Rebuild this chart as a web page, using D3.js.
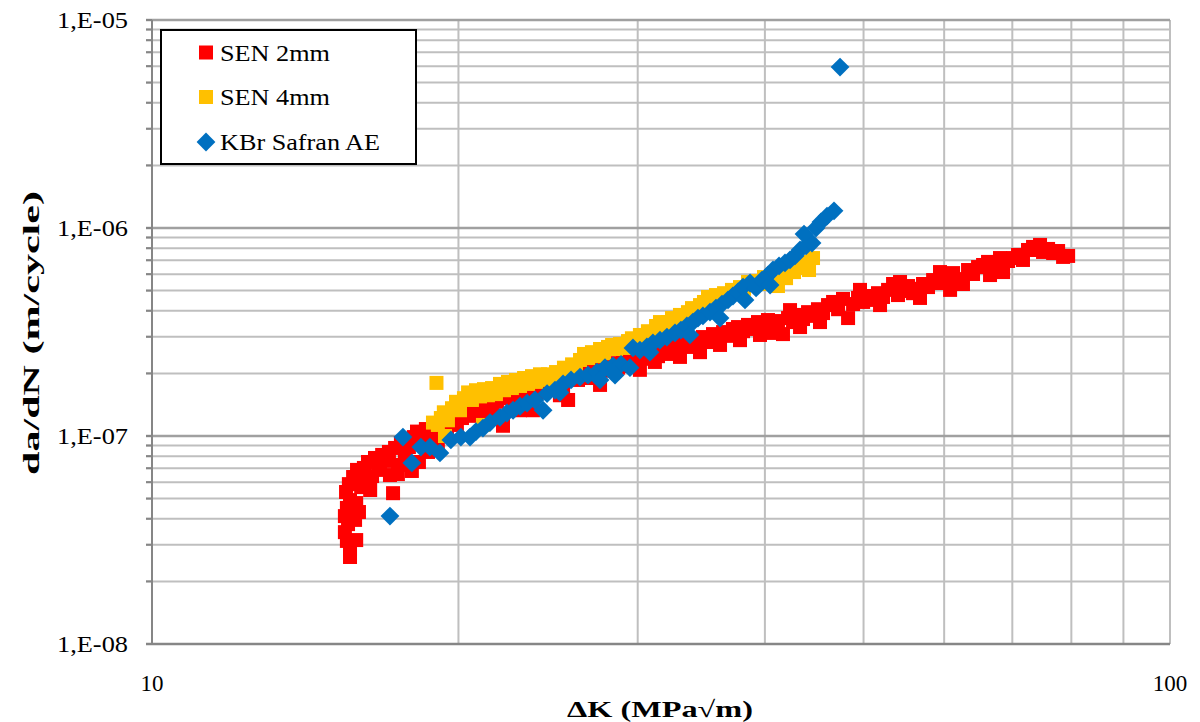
<!DOCTYPE html>
<html><head><meta charset="utf-8">
<script src="https://cdn.jsdelivr.net/npm/d3@7"></script>
<style>html,body{margin:0;padding:0;background:#fff;} svg{display:block;}</style>
</head><body><svg id="c" width="1200" height="722"></svg>
<script>
// ---- data ----
const seriesNames = ["SEN 2mm", "SEN 4mm", "KBr Safran AE"];
const seriesColors = ["#FF0000", "#FFC000", "#0070C0"];

const sen2K = [15.65,15.65,15.54,15.47,15.58,15.47,15.54,15.65,15.51,15.61,
15.76,15.90,16.05,15.87,15.97,16.15,16.30,16.45,16.56,16.71,
16.83,16.98,17.09,17.25,17.33,17.44,17.56,17.72,17.88,18.00,
18.08,18.21,18.29,18.41,18.58,18.75,18.92,19.09,19.27,19.49,
19.71,19.93,20.16,20.39,20.62,20.85,21.10,21.34,21.58,21.82,
22.12,22.37,22.63,22.88,23.15,23.41,23.67,23.94,24.22,24.49,
24.77,25.05,25.34,25.63,25.92,26.21,26.51,26.81,27.12,27.42,
27.74,28.05,28.37,28.69,29.02,29.35,29.68,30.01,30.36,30.70,
31.05,31.41,31.77,32.12,32.49,32.86,33.23,33.61,33.99,34.38,
34.77,35.17,35.57,35.98,36.39,36.80,37.21,37.64,38.07,38.50,
38.94,39.38,39.83,40.28,40.65,41.20,41.67,42.15,42.63,43.11,
43.60,44.10,44.60,45.10,45.62,46.14,46.67,47.20,47.73,48.28,
48.83,49.38,49.95,50.51,51.08,51.66,52.25,52.85,53.45,54.05,
54.67,55.29,55.92,56.56,57.20,57.85,58.52,59.17,59.85,60.53,
61.22,61.91,62.61,63.33,64.05,64.78,65.52,66.26,67.01,67.78,
68.55,69.33,70.12,70.91,71.71,72.53,73.36,74.19,75.04,75.90,
76.77,77.64,78.52,79.42,
18.67,19.01,16.75,16.38,16.19,15.83,15.87,17.13,17.52,
22.99,25.16,27.55,30.15,31.19,33.01,34.54,36.14,37.81,39.56,43.31,45.31,51.90,56.81,60.81,66.56,
42.34,49.60,54.30,59.44,68.08,74.53];
const sen2Rate = [2.62e-8,2.86e-8,3.13e-8,3.45e-8,3.77e-8,4.12e-8,4.51e-8,4.92e-8,5.38e-8,5.87e-8,
6.35e-8,6.87e-8,5.68e-8,4.76e-8,4.31e-8,7.02e-8,7.50e-8,6.42e-8,7.84e-8,7.18e-8,
8.11e-8,7.59e-8,8.38e-8,5.31e-8,8.76e-8,6.56e-8,9.25e-8,7.84e-8,8.85e-8,6.79e-8,
9.88e-8,1.05e-7,7.50e-8,9.25e-8,1.08e-7,9.78e-8,1.03e-7,9.36e-8,1.12e-7,1.07e-7,
1.18e-7,1.13e-7,1.22e-7,1.30e-7,1.25e-7,1.34e-7,1.27e-7,1.41e-7,1.33e-7,1.46e-7,
1.12e-7,1.52e-7,1.43e-7,1.57e-7,1.51e-7,1.64e-7,1.33e-7,1.70e-7,1.62e-7,1.78e-7,
1.68e-7,1.84e-7,1.74e-7,1.49e-7,1.92e-7,1.86e-7,2.00e-7,1.90e-7,2.08e-7,1.98e-7,
2.17e-7,2.06e-7,2.24e-7,2.13e-7,2.32e-7,2.17e-7,2.40e-7,2.24e-7,2.48e-7,2.35e-7,
2.56e-7,2.42e-7,2.65e-7,2.48e-7,2.74e-7,2.59e-7,2.83e-7,2.68e-7,2.92e-7,2.77e-7,
2.99e-7,2.83e-7,3.09e-7,2.95e-7,3.16e-7,3.03e-7,3.27e-7,3.34e-7,3.19e-7,3.42e-7,
3.27e-7,3.53e-7,3.38e-7,3.61e-7,3.13e-7,3.57e-7,3.09e-7,3.69e-7,3.53e-7,3.82e-7,
3.65e-7,3.94e-7,3.78e-7,4.07e-7,3.90e-7,4.26e-7,4.41e-7,4.07e-7,4.56e-7,3.69e-7,
4.31e-7,4.61e-7,4.41e-7,4.71e-7,4.51e-7,4.86e-7,4.66e-7,5.04e-7,5.38e-7,4.76e-7,
4.98e-7,5.26e-7,4.86e-7,5.10e-7,5.38e-7,5.20e-7,5.62e-7,5.44e-7,5.81e-7,5.56e-7,
6.07e-7,5.68e-7,5.38e-7,6.28e-7,6.01e-7,6.49e-7,6.64e-7,6.87e-7,6.42e-7,6.64e-7,
6.14e-7,6.94e-7,7.17e-7,7.42e-7,7.02e-7,7.84e-7,8.11e-7,7.84e-7,7.67e-7,7.93e-7,
7.58e-7,7.75e-7,7.26e-7,7.34e-7,
8.38e-8,8.85e-8,6.87e-8,5.50e-8,6.14e-8,3.95e-8,3.16e-8,6.49e-8,7.26e-8,
1.33e-7,1.57e-7,1.76e-7,2.08e-7,2.27e-7,2.40e-7,2.53e-7,2.74e-7,2.89e-7,3.06e-7,3.34e-7,3.53e-7,4.26e-7,4.61e-7,5.04e-7,5.94e-7,
4.03e-7,5.04e-7,5.50e-7,6.14e-7,7.17e-7,8.29e-7];

const sen4K = [19.03,18.88,19.09,19.22,19.35,19.53,19.71,19.89,20.07,20.25,
20.44,20.62,20.81,21.00,21.19,21.38,21.58,21.77,21.97,22.17,
22.37,22.57,22.78,22.99,23.20,23.41,23.62,23.84,24.05,24.27,
24.49,24.71,24.94,25.16,25.39,25.63,25.86,26.09,26.33,26.57,
26.81,27.05,27.30,27.55,27.80,28.05,28.31,28.56,28.82,29.09,
29.35,29.61,29.88,30.15,30.43,30.70,30.98,31.27,31.55,31.84,
32.12,32.42,32.71,33.01,33.31,33.61,33.92,34.23,34.54,34.85,
35.17,35.49,35.81,36.14,36.47,36.80,37.13,37.47,37.81,38.16,
38.50,38.85,39.21,39.56,39.92,40.28,40.65,41.20,41.58,41.96,
42.34,42.72,43.11,43.50,43.90,44.20,44.60,19.40,21.14];
const sen4Rate = [1.80e-7,1.16e-7,1.13e-7,1.22e-7,1.30e-7,1.19e-7,1.36e-7,1.46e-7,1.33e-7,1.52e-7,
1.62e-7,1.49e-7,1.66e-7,1.55e-7,1.68e-7,1.57e-7,1.70e-7,1.59e-7,1.78e-7,1.66e-7,
1.82e-7,1.70e-7,1.86e-7,1.74e-7,1.90e-7,1.78e-7,1.94e-7,1.82e-7,1.98e-7,1.86e-7,
1.98e-7,1.90e-7,2.03e-7,1.94e-7,2.13e-7,1.98e-7,2.21e-7,2.08e-7,2.32e-7,2.48e-7,
2.37e-7,2.53e-7,2.42e-7,2.62e-7,2.50e-7,2.68e-7,2.74e-7,2.62e-7,2.77e-7,2.65e-7,
2.86e-7,2.95e-7,2.77e-7,3.06e-7,2.89e-7,3.19e-7,3.03e-7,3.38e-7,3.53e-7,3.30e-7,
3.53e-7,3.69e-7,3.53e-7,3.82e-7,3.69e-7,3.94e-7,4.12e-7,3.90e-7,4.26e-7,4.41e-7,
4.66e-7,4.51e-7,4.76e-7,4.61e-7,4.86e-7,4.81e-7,5.04e-7,4.93e-7,5.20e-7,5.10e-7,
5.50e-7,5.32e-7,5.56e-7,5.38e-7,5.81e-7,5.68e-7,5.94e-7,5.26e-7,6.14e-7,5.74e-7,
6.42e-7,6.14e-7,6.71e-7,6.42e-7,6.87e-7,6.28e-7,7.17e-7,1.00e-7,1.13e-7];

const kbrK = [17.13,17.64,18.00,18.37,18.75,19.18,19.66,20.11,20.53,20.81,
21.14,21.48,21.97,22.32,22.63,22.99,23.36,23.78,24.22,24.44,
24.88,25.34,25.80,26.33,26.81,27.36,27.86,28.37,28.89,29.48,
29.68,30.15,30.63,31.05,31.55,32.05,32.64,33.08,33.53,33.99,
34.38,34.77,35.33,35.81,36.30,36.80,37.21,37.64,38.07,38.68,
39.21,39.74,40.28,40.74,41.30,41.86,42.34,42.82,43.31,43.90,
44.50,43.70,44.90,45.41,46.03,46.77,47.41,
25.16,27.55,28.50,30.84,33.76,36.14,38.24,40.47];
const kbrRate = [4.12e-8,9.88e-8,7.42e-8,8.85e-8,8.85e-8,8.29e-8,9.57e-8,9.88e-8,9.88e-8,1.05e-7,
1.09e-7,1.16e-7,1.23e-7,1.29e-7,1.33e-7,1.39e-7,1.44e-7,1.49e-7,1.33e-7,1.60e-7,
1.66e-7,1.78e-7,1.86e-7,1.92e-7,1.96e-7,2.03e-7,2.13e-7,2.17e-7,2.21e-7,2.13e-7,
2.65e-7,2.59e-7,2.68e-7,2.80e-7,2.89e-7,2.99e-7,3.13e-7,3.23e-7,3.38e-7,3.53e-7,
3.69e-7,3.78e-7,3.94e-7,4.12e-7,4.31e-7,4.51e-7,4.71e-7,4.93e-7,5.20e-7,5.44e-7,
5.15e-7,5.62e-7,5.94e-7,6.28e-7,6.57e-7,6.79e-7,7.02e-7,7.34e-7,7.84e-7,8.20e-7,
8.47e-7,9.35e-7,1.00e-6,1.07e-6,1.14e-6,1.21e-6,5.94e-6,
1.62e-7,1.86e-7,1.96e-7,2.53e-7,3.06e-7,3.69e-7,4.51e-7,5.32e-7];

const xTickValues = [10, 100];
const xTickLabels = ["10", "100"];
const yTickValues = [1e-8, 1e-7, 1e-6, 1e-5];
const yTickLabels = ["1,E-08", "1,E-07", "1,E-06", "1,E-05"];
const xGridValues = [20, 30, 40, 50, 60, 70, 80, 90, 100];
const yMinorMantissas = [2, 3, 4, 5, 6, 7, 8, 9];
const xTitle = "ΔK (MPa√m)";
const yTitle = "da/dN (m/cycle)";

// ---- drawing ----
const W = 1200, H = 722;
const P = {l: 152, r: 1170, t: 20, b: 644};
const x = d3.scaleLog().domain([10, 100]).range([P.l, P.r]);
const y = d3.scaleLog().domain([1e-8, 1e-5]).range([P.b, P.t]);
const FONT = "'Liberation Serif', 'DejaVu Serif', serif";

const svg = d3.select("#c");
svg.append("rect").attr("width", W).attr("height", H).attr("fill", "#fff");

const yMajor = yTickValues.slice(1);
const yMinor = [];
yTickValues.slice(0, 3).forEach(dec => yMinorMantissas.forEach(m => yMinor.push(dec * m)));

const grid = svg.append("g");
grid.selectAll(".xg").data(xGridValues).join("line")
  .attr("x1", d => x(d)).attr("x2", d => x(d))
  .attr("y1", P.t).attr("y2", P.b)
  .attr("stroke", "#BFBFBF").attr("stroke-width", 2);
grid.selectAll(".ym").data(yMinor).join("line")
  .attr("x1", P.l - 6).attr("x2", P.r)
  .attr("y1", d => y(d)).attr("y2", d => y(d))
  .attr("stroke", "#BFBFBF").attr("stroke-width", 2);
grid.selectAll(".yM").data(yMajor).join("line")
  .attr("x1", P.l - 6).attr("x2", P.r)
  .attr("y1", d => y(d)).attr("y2", d => y(d))
  .attr("stroke", "#A0A0A0").attr("stroke-width", 2.5);
grid.selectAll(".yt").data(yMinor.concat(yMajor)).join("line")
  .attr("x1", P.l - 6).attr("x2", P.l)
  .attr("y1", d => y(d)).attr("y2", d => y(d))
  .attr("stroke", "#868686").attr("stroke-width", 2);

svg.append("line").attr("x1", P.l).attr("x2", P.l).attr("y1", P.t).attr("y2", P.b)
  .attr("stroke", "#868686").attr("stroke-width", 2);
svg.append("line").attr("x1", P.l - 6).attr("x2", P.r).attr("y1", P.b).attr("y2", P.b)
  .attr("stroke", "#868686").attr("stroke-width", 2.5);

svg.selectAll(".yl").data(yTickValues).join("text")
  .attr("x", 128).attr("y", d => y(d) + 8)
  .attr("text-anchor", "end")
  .attr("font-family", FONT).attr("font-size", 23).attr("fill", "#000")
  .attr("textLength", 71).attr("lengthAdjust", "spacingAndGlyphs")
  .text((d, i) => yTickLabels[i]);
svg.selectAll(".xl").data(xTickValues).join("text")
  .attr("x", d => x(d)).attr("y", 691)
  .attr("text-anchor", "middle")
  .attr("font-family", FONT).attr("font-size", 23).attr("fill", "#000")
  .text((d, i) => xTickLabels[i]);

svg.append("text")
  .attr("transform", "translate(39,333) rotate(-90)")
  .attr("text-anchor", "middle")
  .attr("font-family", FONT).attr("font-size", 23).attr("font-weight", "bold")
  .attr("textLength", 284).attr("lengthAdjust", "spacingAndGlyphs")
  .text(yTitle);
svg.append("text")
  .attr("x", 660).attr("y", 717)
  .attr("text-anchor", "middle")
  .attr("font-family", FONT).attr("font-size", 23).attr("font-weight", "bold")
  .attr("textLength", 186).attr("lengthAdjust", "spacingAndGlyphs")
  .text(xTitle);

const SQ = 14, DI = 9.4;
const diamond = r => `M0,${-r}L${r},0L0,${r}L${-r},0Z`;
const zip = (a, b) => a.map((v, i) => [v, b[i]]);
const plot = svg.append("g");
plot.selectAll(".s2").data(zip(sen2K, sen2Rate)).join("rect")
  .attr("x", d => x(d[0]) - SQ / 2).attr("y", d => y(d[1]) - SQ / 2)
  .attr("width", SQ).attr("height", SQ).attr("fill", seriesColors[0]);
plot.selectAll(".s4").data(zip(sen4K, sen4Rate)).join("rect")
  .attr("x", d => x(d[0]) - SQ / 2).attr("y", d => y(d[1]) - SQ / 2)
  .attr("width", SQ).attr("height", SQ).attr("fill", seriesColors[1]);
plot.selectAll(".kb").data(zip(kbrK, kbrRate)).join("path")
  .attr("transform", d => `translate(${x(d[0])},${y(d[1])})`)
  .attr("d", diamond(DI)).attr("fill", seriesColors[2]);

const lg = svg.append("g");
lg.append("rect").attr("x", 161).attr("y", 30).attr("width", 255).attr("height", 134)
  .attr("fill", "#fff").attr("stroke", "#000").attr("stroke-width", 2);
const legW = [110, 110, 160];
const rowY = [52.5, 97, 142];
seriesNames.forEach((n, i) => {
  if (i < 2) {
    lg.append("rect").attr("x", 206 - SQ / 2).attr("y", rowY[i] - SQ / 2)
      .attr("width", SQ).attr("height", SQ).attr("fill", seriesColors[i]);
  } else {
    lg.append("path").attr("transform", `translate(206,${rowY[i]})`)
      .attr("d", diamond(DI)).attr("fill", seriesColors[i]);
  }
  lg.append("text").attr("x", 220).attr("y", rowY[i] + 8)
    .attr("font-family", FONT).attr("font-size", 23).attr("fill", "#000")
    .attr("textLength", legW[i]).attr("lengthAdjust", "spacingAndGlyphs")
    .text(n);
});
</script></body></html>
